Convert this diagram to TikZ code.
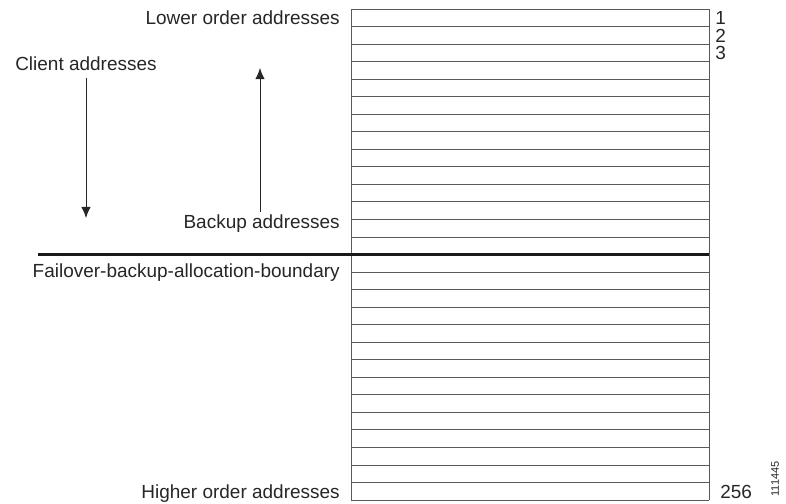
\documentclass[tikz,border=0pt]{standalone}
\usepackage{fontspec}
\setmainfont{Liberation Sans}
\usetikzlibrary{arrows.meta}

\begin{document}
\begin{tikzpicture}[
    lbl/.style={font=\fontsize{13.5}{16}\selectfont, inner sep=0pt, text=black!85},
    rowline/.style={black!65, line width=0.6pt},
    addrarrow/.style={-{Latex[length=2.8mm, width=2.4mm]}, line width=0.7pt, black!85}
]
    \useasboundingbox (0,0) rectangle (19.65,12.575);

    %% Address table, 28 rows
    \foreach \i in {0,...,28}
        \draw[rowline] (8.775,{12.35-\i*0.4384}) -- (17.725,{12.35-\i*0.4384});
    \draw[rowline] (8.775,12.35) -- (8.775,0.0748);
    \draw[rowline] (17.725,12.35) -- (17.725,0.0748);

    %% Boundary
    \draw[line width=2.4pt, black!90] (0.95,6.2124) -- (17.725,6.2124);

    %% Arrows
    \coordinate (clienttop) at (2.15,10.625);
    \coordinate (clientbot) at (2.15,7.125);
    \coordinate (backupbot) at (6.5,7.275);
    \coordinate (backuptop) at (6.5,10.875);
    \draw[addrarrow] (clienttop) -- (clientbot);
    \draw[addrarrow] (backupbot) -- (backuptop);

    %% Labels
    \node[lbl, anchor=base east] (lower) at (8.5,11.955) {Lower order addresses};
    \node[lbl, anchor=base west] (client) at (0.375,10.817) {Client addresses};
    \node[lbl, anchor=base east] (backup) at (8.5,6.8675) {Backup addresses};
    \node[lbl, anchor=base east] (boundary) at (8.5,5.63) {Failover-backup-allocation-boundary};
    \node[lbl, anchor=base east] (higher) at (8.5,0.105) {Higher order addresses};

    %% Row numbers
    \node[lbl, anchor=base west] (num1) at (17.875,11.955) {1};
    \node[lbl, anchor=base west] (num2) at (17.875,11.517) {2};
    \node[lbl, anchor=base west] (num3) at (17.875,11.08) {3};
    \node[lbl, anchor=base west] (num256) at (18.0,0.105) {256};

    %% Figure id
    \node[font=\fontsize{7.8}{9}\selectfont, rotate=90, inner sep=0pt, text=black!85]
        (figid) at (19.38,0.6) {111445};
\end{tikzpicture}
\end{document}
